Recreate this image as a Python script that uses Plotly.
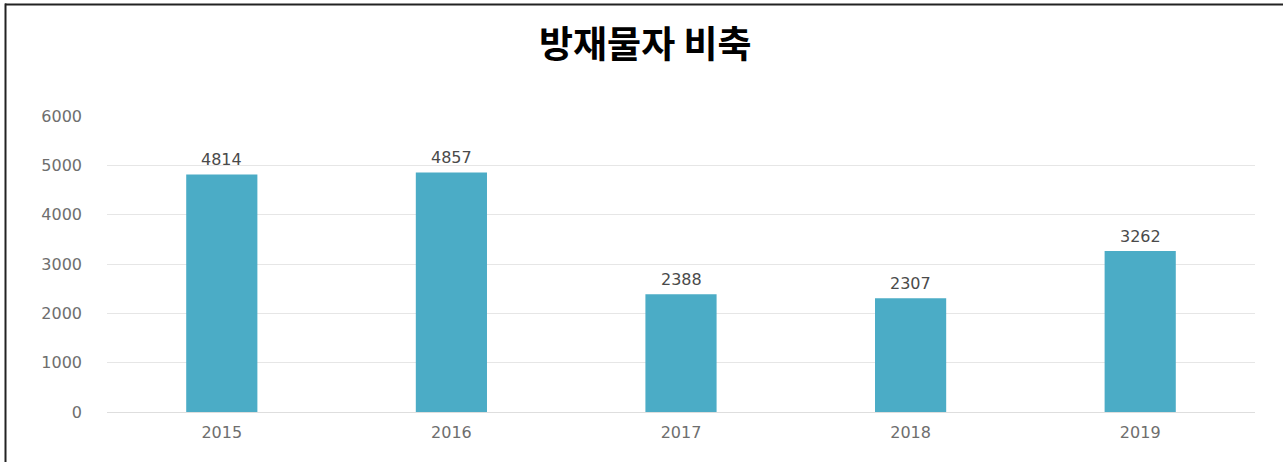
import plotly.graph_objects as go

# ---- data ----
years = ["2015", "2016", "2017", "2018", "2019"]
values = [4814, 4857, 2388, 2307, 3262]
title_text = "방재물자 비축"
y_ticks = [0, 1000, 2000, 3000, 4000, 5000, 6000]

# ---- layout constants ----
W, H = 1283, 462
ML, MR, MT, MB = 107, 28, 116, 50
PW, PH = W - ML - MR, H - MT - MB

def px_x(px):
    return (px - ML) / PW

def px_y(py):
    return (H - MB - py) / PH

BAR_COLOR = "#4BACC6"
TICK_COLOR = "#6e6e6e"
LABEL_COLOR = "#4a4a4a"
FONT = "DejaVu Sans"

fig = go.Figure()
fig.add_trace(go.Bar(
    x=years,
    y=values,
    marker=dict(color=BAR_COLOR, line=dict(width=0)),
    width=0.31,
    hoverinfo="x+y",
))

annotations = [
    dict(x=i, y=v, text=str(v), showarrow=False, xref="x", yref="y",
         yanchor="middle", yshift=15,
         font=dict(family=FONT, size=16, color=LABEL_COLOR))
    for i, v in enumerate(values)
]

shapes = [
    # top frame line
    dict(type="line", xref="paper", yref="paper",
         x0=px_x(5), x1=px_x(W + 2), y0=px_y(4.5), y1=px_y(4.5),
         line=dict(color="#222222", width=2)),
    # left frame line
    dict(type="line", xref="paper", yref="paper",
         x0=px_x(5.5), x1=px_x(5.5), y0=px_y(3.5), y1=px_y(H + 2),
         line=dict(color="#222222", width=2)),
]

fig.update_layout(
    width=W, height=H,
    margin=dict(l=ML, r=MR, t=MT, b=MB, pad=0),
    paper_bgcolor="white",
    plot_bgcolor="white",
    showlegend=False,
    title=dict(
        text="<b>" + title_text + "</b>",
        x=0.503, xref="container", xanchor="center",
        y=1 - 45 / H, yref="container", yanchor="middle",
        font=dict(family="Noto Sans CJK KR", size=37, color="#000000"),
    ),
    xaxis=dict(
        type="category",
        range=[-0.5, len(years) - 0.5],
        showgrid=False, showline=False, zeroline=False,
        ticks="", tickfont=dict(family=FONT, size=16, color=TICK_COLOR),
        ticklabelstandoff=9,
    ),
    yaxis=dict(
        range=[0, 6000],
        tickvals=y_ticks,
        showgrid=True, gridcolor="#e6e6e6", gridwidth=1,
        zeroline=True, zerolinecolor="#dedede", zerolinewidth=1,
        showline=False, ticks="",
        tickfont=dict(family=FONT, size=16, color=TICK_COLOR),
        ticklabelstandoff=24,
    ),
    annotations=annotations,
    shapes=shapes,
)

fig.write_html("out.html", config={"displayModeBar": False},
               post_script="document.body.style.margin='0px';")
